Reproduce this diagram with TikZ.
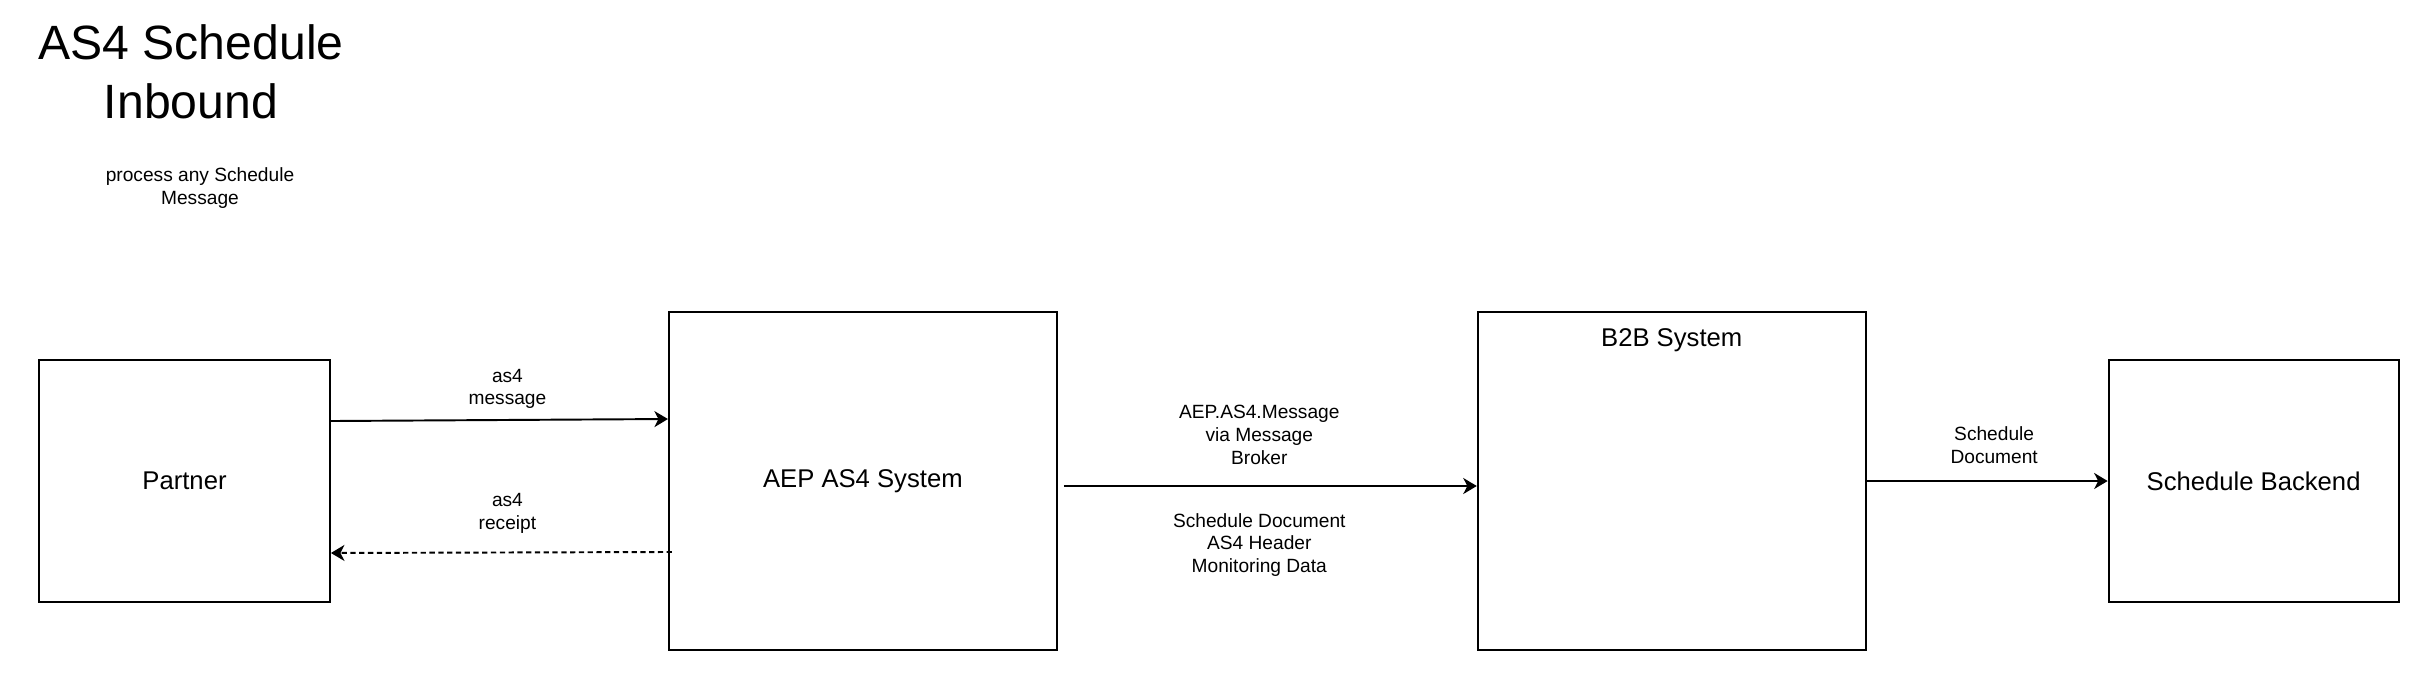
\documentclass[tikz,border=0pt]{standalone}
\usepackage{fontspec}
\setmainfont{Liberation Sans}
\usetikzlibrary{arrows.meta}
\tikzstyle{sys} = [rectangle, draw=black, line width=1.1pt, text centered, font=\fontsize{14.6}{17.5}\selectfont]
\tikzstyle{lbl} = [align=center, inner sep=0pt, font=\fontsize{10.9}{12.9}\selectfont]
\tikzstyle{arrow} = [line width=1.1pt, ->, >={Stealth[length=0.27cm, width=0.32cm, inset=0.08cm]}]
\begin{document}
\begin{tikzpicture}[x=0.02cm, y=-0.02cm, node distance=2cm]
\useasboundingbox (0,0) rectangle (2430,680);
\node(t)[align=center, font=\fontsize{27.4}{33.4}\selectfont] at (191,72){AS4 Schedule\\Inbound};
\node(d)[lbl] at (200,188){process any Schedule\\Message};
\node(1)[sys, minimum width=5.82cm, minimum height=4.84cm] at (184.5,481){\raisebox{-0.06cm}{Partner}};
\node(2)[sys, minimum width=7.76cm, minimum height=6.76cm, right of = 1, xshift = 11.57cm]{\raisebox{-0.06cm}{AEP AS4 System}};
\node(3)[sys, minimum width=7.76cm, minimum height=6.76cm, right of = 2, xshift = 14.18cm, label={[anchor=center, yshift=-0.58cm, font=\fontsize{14.6}{17.5}\selectfont]north:B2B System}]{};
\node(4)[sys, minimum width=5.8cm, minimum height=4.84cm, right of = 3, xshift = 9.64cm]{\raisebox{-0.06cm}{Schedule Backend}};
\draw[arrow]([yshift=1.2cm]1.east) -- node[lbl, xshift=0.16cm, yshift=0.62cm]{as4\\message} ([yshift=1.24cm]2.west);
\draw[arrow, dash pattern=on 3pt off 2pt]([xshift=0.08cm, yshift=-1.42cm]2.west) -- node[lbl, xshift=0.12cm, yshift=0.78cm]{as4\\receipt} ([yshift=-1.44cm]1.east);
\draw[arrow]([xshift=0.12cm, yshift=-0.1cm]2.east) -- node[lbl, xshift=-0.22cm, yshift=1.02cm]{AEP.AS4.Message\\via Message\\Broker} node[lbl, xshift=-0.22cm, yshift=-1.18cm]{Schedule Document\\AS4 Header\\Monitoring Data} ([yshift=-0.1cm]3.west);
\draw[arrow](3.east) -- node[lbl, xshift=0.14cm, yshift=0.72cm]{Schedule\\Document} (4.west);
\end{tikzpicture}
\end{document}
